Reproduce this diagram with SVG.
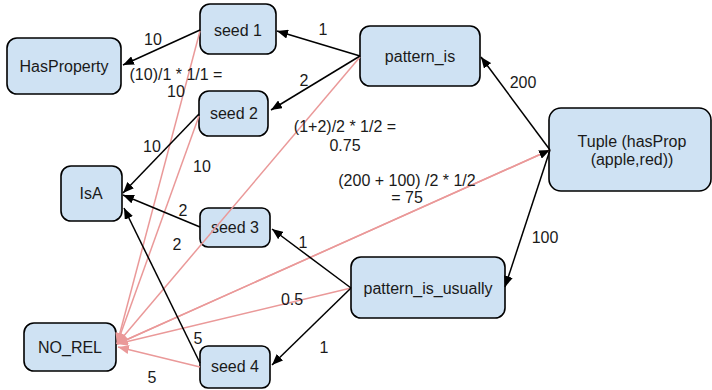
<svg xmlns="http://www.w3.org/2000/svg" width="712" height="390" viewBox="0 0 712 390">
<defs>
<style>
.node rect{fill:#cfe2f3;stroke:#000;stroke-width:1.6}
text{font-family:"Liberation Sans",Arial,sans-serif;font-size:16px;fill:#1a1a1a;text-anchor:middle}
.e{stroke:#000;stroke-width:1.5;fill:none}
.r{stroke:#ea9999;stroke-width:1.5;fill:none}
</style>
<marker id="ab" markerUnits="userSpaceOnUse" markerWidth="11" markerHeight="9" refX="11" refY="4.5" orient="auto"><path d="M0,0 L11,4.5 L0,9 z" fill="#000"/></marker>
<marker id="ar" markerUnits="userSpaceOnUse" markerWidth="11" markerHeight="9" refX="11" refY="4.5" orient="auto"><path d="M0,0 L11,4.5 L0,9 z" fill="#ea9999"/></marker>
</defs>
<rect width="712" height="390" fill="#fff"/>
<g id="HasProperty" class="node"><rect x="7" y="38" width="114" height="56" rx="10"/><text x="64" y="72">HasProperty</text></g>
<g id="seed1" class="node"><rect x="200" y="4" width="76" height="50" rx="10"/><text x="238" y="36">seed 1</text></g>
<g id="seed2" class="node"><rect x="199" y="91" width="69" height="45" rx="10"/><text x="234" y="119">seed 2</text></g>
<g id="IsA" class="node"><rect x="61" y="166" width="61" height="55" rx="10"/><text x="91" y="199">IsA</text></g>
<g id="seed3" class="node"><rect x="200" y="208" width="70" height="39" rx="8"/><text x="235" y="233">seed 3</text></g>
<g id="seed4" class="node"><rect x="200" y="346" width="70" height="42" rx="8"/><text x="235" y="372">seed 4</text></g>
<g id="NO_REL" class="node"><rect x="24" y="323" width="92" height="48" rx="10"/><text x="70" y="353">NO_REL</text></g>
<g id="pattern_is" class="node"><rect x="360" y="26" width="120" height="60" rx="10"/><text x="420" y="62">pattern_is</text></g>
<g id="Tuple" class="node"><rect x="549" y="108" width="162" height="83" rx="12"/><text x="632" y="147">Tuple (hasProp</text><text x="632" y="165">(apple,red))</text></g>
<g id="pattern_is_usually" class="node"><rect x="351" y="257" width="154" height="61" rx="10"/><text x="428" y="294">pattern_is_usually</text></g>
<g id="connectors">
<line class="r" x1="200" y1="31" x2="117" y2="344" marker-end="url(#ar)"/>
<line class="r" x1="199" y1="116" x2="117" y2="344" marker-end="url(#ar)"/>
<line class="r" x1="360" y1="57" x2="117" y2="344" marker-end="url(#ar)"/>
<line class="r" x1="550" y1="150" x2="117" y2="344" marker-end="url(#ar)"/>
<line class="r" x1="117" y1="344" x2="550" y2="150" marker-end="url(#ab)"/>
<line class="r" x1="351" y1="288" x2="117" y2="344" marker-end="url(#ar)"/>
<line class="r" x1="200" y1="367" x2="118" y2="347" marker-end="url(#ar)"/>
<line class="e" x1="200" y1="30" x2="123" y2="65" marker-end="url(#ab)"/>
<line class="e" x1="360" y1="56" x2="277" y2="31" marker-end="url(#ab)"/>
<line class="e" x1="360" y1="56" x2="271" y2="110" marker-end="url(#ab)"/>
<line class="e" x1="199" y1="114" x2="123" y2="193" marker-end="url(#ab)"/>
<line class="e" x1="200" y1="227" x2="123" y2="195" marker-end="url(#ab)"/>
<line class="e" x1="200" y1="363" x2="124" y2="208" marker-end="url(#ab)"/>
<line class="e" x1="351" y1="288" x2="272" y2="229" marker-end="url(#ab)"/>
<line class="e" x1="351" y1="288" x2="272" y2="365" marker-end="url(#ab)"/>
<line class="e" x1="550" y1="150" x2="481" y2="57" marker-end="url(#ab)"/>
<line class="e" x1="550" y1="150" x2="505" y2="287" marker-end="url(#ab)"/>
<g id="labels">
<text x="153" y="45">10</text>
<text x="176" y="80">(10)/1 * 1/1 =</text>
<text x="176" y="97">10</text>
<text x="323" y="35">1</text>
<text x="304" y="86">2</text>
<text x="345" y="132">(1+2)/2 * 1/2 =</text>
<text x="345" y="151">0.75</text>
<text x="152" y="152">10</text>
<text x="202" y="172">10</text>
<text x="407" y="186">(200 + 100) /2 * 1/2</text>
<text x="407" y="203">= 75</text>
<text x="523" y="88">200</text>
<text x="183" y="216">2</text>
<text x="177" y="250">2</text>
<text x="303" y="248">1</text>
<text x="292" y="305">0.5</text>
<text x="545" y="243">100</text>
<text x="324" y="353">1</text>
<text x="198" y="344">5</text>
<text x="152" y="383">5</text>
</g>
</g>
</svg>
